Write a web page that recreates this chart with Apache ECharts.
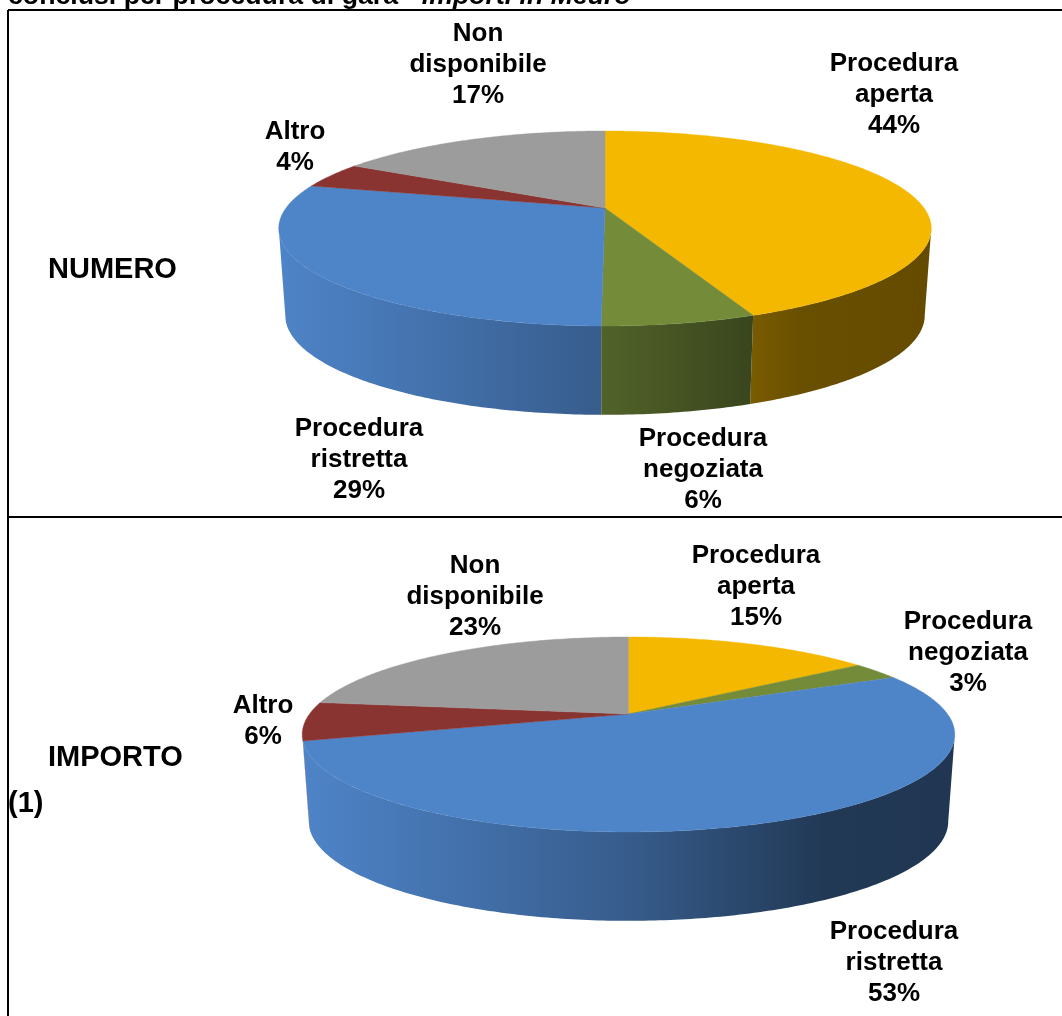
<!DOCTYPE html>
<html><head><meta charset="utf-8">
<style>html,body{margin:0;padding:0;background:#fff}#c{width:1062px;height:1016px}</style>
<script src="https://cdn.jsdelivr.net/npm/echarts@6/dist/echarts.min.js"></script>
</head><body><div id="c"></div>
<script>
// ---- data ----
const categories = ['Procedura\naperta', 'Procedura\nnegoziata', 'Procedura\nristretta', 'Altro', 'Non\ndisponibile'];
const valuesNumero = [43.9, 6.25, 28.85, 4.3, 16.7];
const valuesImporto = [15.0, 3.0, 52.6, 6.4, 23.0];
const rowLabels = ['NUMERO', 'IMPORTO', '(1)'];
const titleUpright = 'conclusi per procedura di gara - ';
const titleItalic = 'importi in Meuro';

// ---- styling and layout ----
const colors = ['#F4B800', '#748C3A', '#4E84C8', '#8A3432', '#9C9C9C'];
const FONT = '"Liberation Sans", Arial, sans-serif';
const shadeStops = [[0, 1], [0.5, 0.7], [0.72, 0.5], [0.8, 0.43], [1, 0.41]];
const GEO = {k: 319, hy: 93.2, c: 0.21, rx: 326, baseScaleX: 0.98, baseScaleY: 1.02, depth: 86.5};
const pies = [
  {values: valuesNumero, cx: 605, cy: 208,
   labels: [[894, 95], [703, 470], [359, 460], [295, 147], [478, 65]]},
  {values: valuesImporto, cx: 628.5, cy: 714,
   labels: [[756, 587], [968, 653], [894, 963], [263, 721], [475, 597]]}
];

const deg = Math.PI / 180;
function rim(pie, thetaDeg, base) {
  const u = Math.sin(thetaDeg * deg), v = -Math.cos(thetaDeg * deg);
  const d = 1 - GEO.c * v;
  const sx = base ? GEO.baseScaleX : 1, sy = base ? GEO.baseScaleY : 1;
  return [pie.cx + sx * GEO.k * u / d, pie.cy + sy * GEO.hy * v / d + (base ? GEO.depth : 0)];
}
function spans(values) {
  const total = values.reduce((a, b) => a + b, 0);
  let acc = 0;
  return values.map(v => { const a = acc / total * 360; acc += v; return [a, acc / total * 360]; });
}
function arc(pie, a0, a1, base) {
  const pts = [], n = Math.max(2, Math.ceil((a1 - a0) / 0.75));
  for (let i = 0; i <= n; i++) pts.push(rim(pie, a0 + (a1 - a0) * i / n, base));
  return pts;
}
function shaded(hex, f) {
  const n = parseInt(hex.slice(1), 16);
  const ch = s => Math.round(((n >> s) & 255) * f);
  return `rgb(${ch(16)},${ch(8)},${ch(0)})`;
}
function wallFill(pie, color) {
  return new echarts.graphic.LinearGradient(pie.cx - GEO.rx, 0, pie.cx + GEO.rx, 0,
    shadeStops.map(s => ({offset: s[0], color: shaded(color, s[1])})), true);
}
const WALL_FROM = 102, WALL_TO = 255;

function layer(pie, kind) {
  const sp = spans(pie.values);
  return {
    type: 'custom', coordinateSystem: 'none', silent: true, clip: false,
    z: kind === 'wall' ? 1 : kind === 'top' ? 2 : 3,
    data: pie.values,
    renderItem(params) {
      const i = params.dataIndex, [a0, a1] = sp[i];
      if (kind === 'top') {
        const points = [[pie.cx, pie.cy]].concat(arc(pie, a0, a1, false));
        return {type: 'polygon', shape: {points},
          style: {fill: colors[i], stroke: colors[i], lineWidth: 0.4}};
      }
      if (kind === 'wall') {
        const s = Math.max(a0, WALL_FROM), e = Math.min(a1, WALL_TO);
        if (e <= s) return null;
        const points = arc(pie, s, e, false).concat(arc(pie, s, e, true).reverse());
        return {type: 'polygon', shape: {points}, style: {fill: wallFill(pie, colors[i])}};
      }
      return {type: 'text', x: pie.labels[i][0], y: pie.labels[i][1], style: {
        text: categories[i] + '\n' + Math.round(pie.values[i]) + '%',
        fill: '#000', font: 'bold 26px ' + FONT, lineHeight: 31,
        align: 'center', verticalAlign: 'middle', textAlign: 'center', textVerticalAlign: 'middle'
      }};
    }
  };
}

const frame = {stroke: '#000', lineWidth: 2};
const chart = echarts.init(document.getElementById('c'), null, {renderer: 'canvas'});
const rowText = (t, x, y) => ({type: 'text', x, y, style: {text: t, fill: '#000',
  font: 'bold 29px ' + FONT, textVerticalAlign: 'middle', verticalAlign: 'middle'}});
chart.setOption({
  animation: false,
  backgroundColor: '#fff',
  graphic: {elements: [
    {type: 'text', x: 8, y: 10, style: {
      text: '{a|' + titleUpright + '}{b|' + titleItalic + '}',
      verticalAlign: 'bottom', textVerticalAlign: 'bottom', fill: '#000',
      rich: {a: {font: 'bold 26.7px ' + FONT, fill: '#000'}, b: {font: 'italic bold 26.7px ' + FONT, fill: '#000'}}}},
    {type: 'line', shape: {x1: 8, y1: 10, x2: 1062, y2: 10}, style: frame},
    {type: 'line', shape: {x1: 8, y1: 10, x2: 8, y2: 1016}, style: frame},
    {type: 'line', shape: {x1: 8, y1: 517, x2: 1062, y2: 517}, style: frame},
    rowText(rowLabels[0], 48, 270),
    rowText(rowLabels[1], 48, 758),
    rowText(rowLabels[2], 8, 804)
  ]},
  series: pies.flatMap(p => [layer(p, 'wall'), layer(p, 'top'), layer(p, 'label')])
});
</script></body></html>
